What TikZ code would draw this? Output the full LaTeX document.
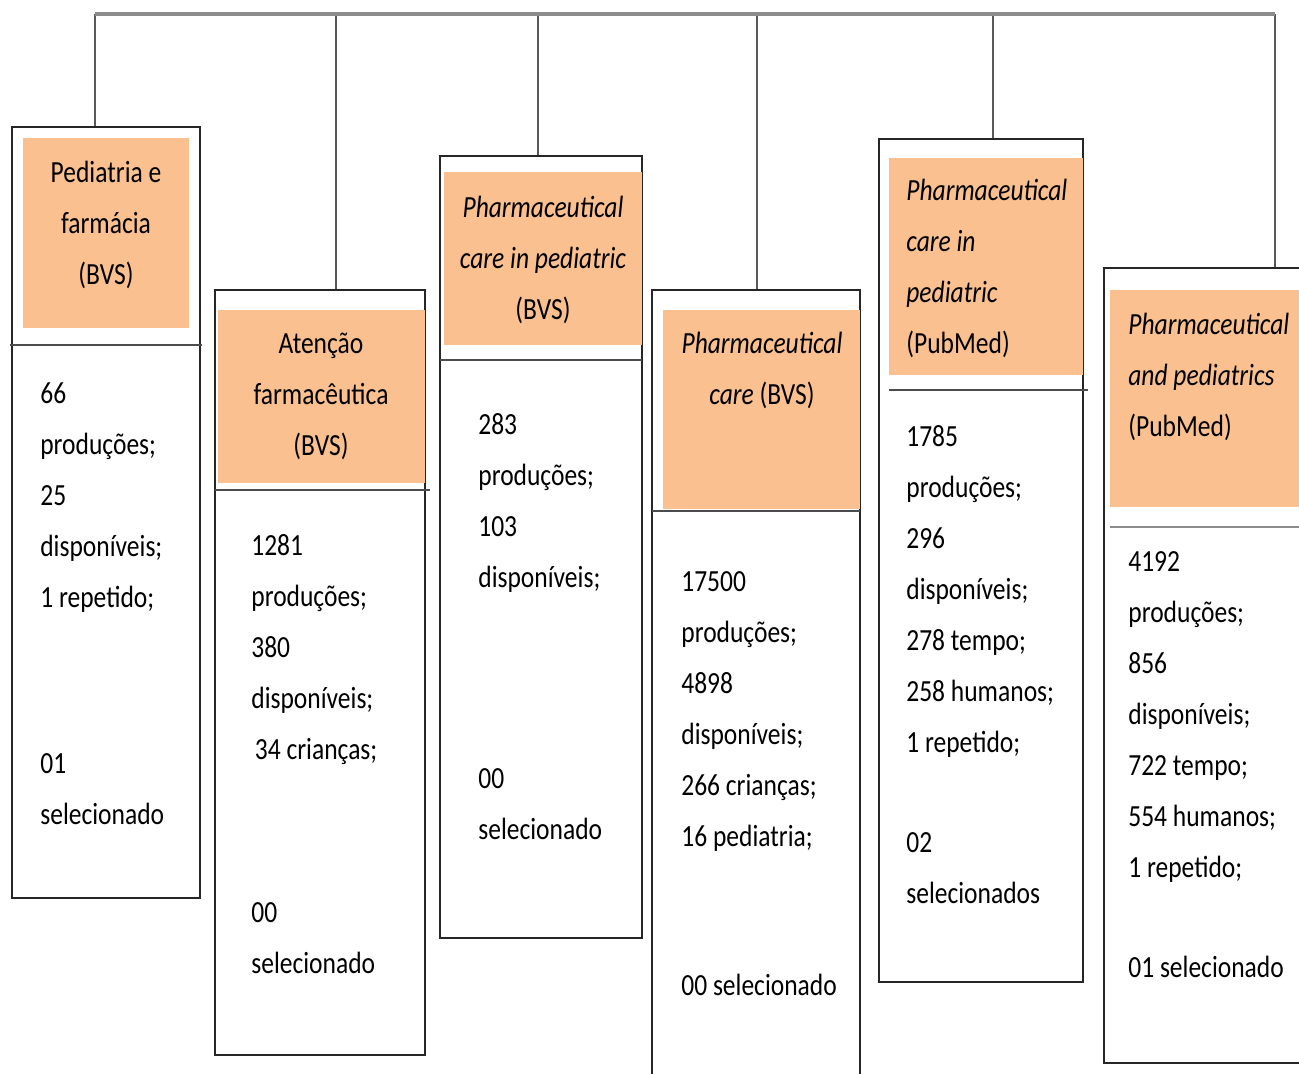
\documentclass[tikz,border=0pt]{standalone}
\usepackage{fontspec}
\setmainfont{Carlito}[FakeStretch=0.83]
\usepackage{tikz}
\usetikzlibrary{fit}

\definecolor{headfill}{HTML}{FAC090}
\definecolor{busgray}{HTML}{8C8C8C}

\tikzset{
    outbox/.style={draw=black!85, line width=1.1pt, inner sep=0pt, fill=white},
    headbox/.style={fill=headfill, inner sep=0pt},
    sepline/.style={draw=black!70, line width=1.2pt},
    link/.style={draw=black!65, line width=1.2pt},
    bus/.style={draw=busgray, line width=2pt},
    txt/.style={font=\fontsize{17.5}{29}\selectfont, align=left, anchor=base west, inner sep=0pt},
    ttl/.style={txt, align=center, anchor=base},
}

\begin{document}
\begin{tikzpicture}[x=0.02cm, y=-0.02cm]
    \useasboundingbox (0,0) rectangle (1299,1073);
    \clip (0,0) rectangle (1299,1073);

    % outer boxes
    \node[outbox, fit={(12,127) (200,898)}] (b1) {};
    \node[outbox, fit={(215,290) (425,1055)}] (b2) {};
    \node[outbox, fit={(440,156) (642,938)}] (b3) {};
    \node[outbox, fit={(652,290) (860,1090)}] (b4) {};
    \node[outbox, fit={(879,139) (1083,982)}] (b5) {};
    \node[outbox, fit={(1104,268) (1310,1063)}] (b6) {};

    % orange headings
    \node[headbox, fit={(23,138) (189,328)}] (h1) {};
    \node[headbox, fit={(218,310) (425,483)}] (h2) {};
    \node[headbox, fit={(444,172) (642,345)}] (h3) {};
    \node[headbox, fit={(663,310) (860,509)}] (h4) {};
    \node[headbox, fit={(889,158) (1083,375)}] (h5) {};
    \node[headbox, fit={(1110,290) (1310,507)}] (h6) {};

    % separators
    \draw[sepline] (10,345) -- (202,345);
    \draw[sepline] (215,490) -- (430,490);
    \draw[sepline] (440,360) -- (642,360);
    \draw[sepline] (652,511) -- (860,511);
    \draw[sepline] (889,390) -- (1088,390);
    \draw[sepline, draw=black!45] (1110,527) -- (1299,527);

    % titles (placed at the baseline of their last line)
    \node[ttl] (t1) at (106,284) {Pediatria e\\farmácia\\(BVS)};
    \node[ttl] (t2) at (321,455) {Atenção\\farmacêutica\\(BVS)};
    \node[ttl] (t3) at (543,319) {\textit{Pharmaceutical}\\\textit{care in pediatric}\\(BVS)};
    \node[ttl] (t4) at (762,404) {\textit{Pharmaceutical}\\\textit{care} (BVS)};
    \node[txt] (t5) at (906,353) {\textit{Pharmaceutical}\\\textit{care in}\\\textit{pediatric}\\(PubMed)};
    \node[txt] (t6) at (1128,436) {\textit{Pharmaceutical}\\\textit{and pediatrics}\\(PubMed)};

    % counts
    \node[txt] (c1) at (40,607) {66\\produções;\\25\\disponíveis;\\1 repetido;};
    \node[txt] (c2) at (251,759) {1281\\produções;\\380\\disponíveis;\\\hspace*{2pt}34 crianças;};
    \node[txt] (c3) at (478,587) {283\\produções;\\103\\disponíveis;};
    \node[txt] (c4) at (681,846) {17500\\produções;\\4898\\disponíveis;\\266 crianças;\\16 pediatria;};
    \node[txt] (c5) at (906,752) {1785\\produções;\\296\\disponíveis;\\278 tempo;\\258 humanos;\\1 repetido;};
    \node[txt] (c6) at (1128,877) {4192\\produções;\\856\\disponíveis;\\722 tempo;\\554 humanos;\\1 repetido;};

    % selected
    \node[txt] (s1) at (40,824) {01\\selecionado};
    \node[txt] (s2) at (251,973) {00\\selecionado};
    \node[txt] (s3) at (478,839) {00\\selecionado};
    \node[txt] (s4) at (681,995) {00 selecionado};
    \node[txt] (s5) at (906,903) {02\\selecionados};
    \node[txt] (s6) at (1128,977) {01 selecionado};

    % connectors
    \coordinate (k1) at (95,14);
    \coordinate (k2) at (336,14);
    \coordinate (k3) at (538,14);
    \coordinate (k4) at (757,14);
    \coordinate (k5) at (993,14);
    \coordinate (k6) at (1275,14);
    \draw[link] (k1) -- (k1 |- b1.north);
    \draw[link] (k2) -- (k2 |- b2.north);
    \draw[link] (k3) -- (k3 |- b3.north);
    \draw[link] (k4) -- (k4 |- b4.north);
    \draw[link] (k5) -- (k5 |- b5.north);
    \draw[link] (k6) -- (k6 |- b6.north);
    \draw[bus] (k1) -- (k6);
\end{tikzpicture}
\end{document}
